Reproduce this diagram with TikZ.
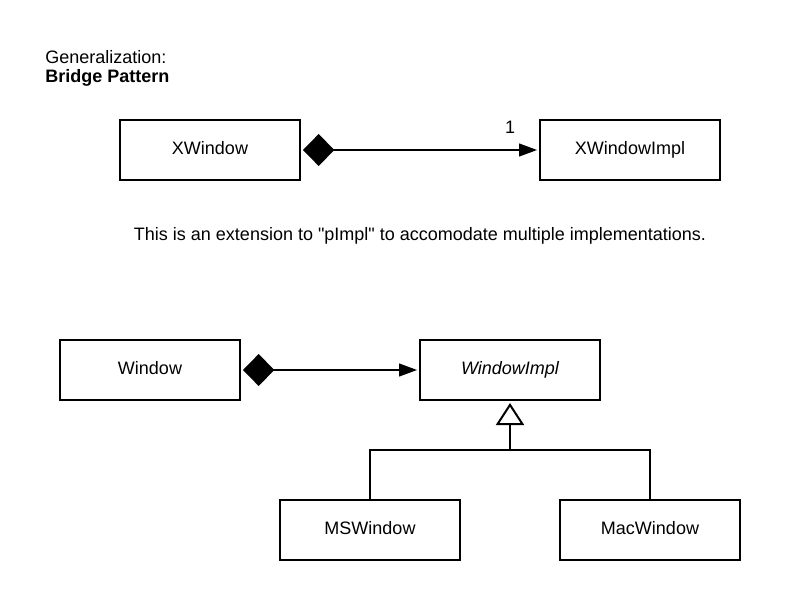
\documentclass[tikz,border=0pt]{standalone}
\usepackage{fontspec}
\setmainfont{Liberation Sans}
\usetikzlibrary{arrows.meta}
\begin{document}
\begin{tikzpicture}[x=0.75pt,y=-0.75pt,
  cls/.style={draw,line width=1.5pt,minimum width=135pt,minimum height=45pt,inner sep=0pt,text height=9.6pt,text depth=2.8pt,font=\fontsize{13.5}{16}\selectfont},
  txt/.style={inner sep=0pt,font=\fontsize{13.5}{16}\selectfont},
  comp/.style={line width=1.5pt,{Diamond[length=23.5pt,width=24pt,line width=0pt]}-{Triangle[length=13.5pt,width=10pt,line width=0pt]},shorten <=1.5pt,shorten >=1.5pt},
  gen/.style={line width=1.5pt,-{Triangle[open,length=16.5pt,width=21pt,fill=white]},shorten >=1.5pt}]
\useasboundingbox (0,0) rectangle (800,600);
\node[txt,anchor=west] (t1) at (45,57) {Generalization:};
\node[txt,anchor=west,font=\fontsize{13.5}{16}\selectfont\bfseries] (t2) at (45,78) {Bridge Pattern};
\node[cls] (xw) at (210,150) {XWindow};
\node[cls] (xwi) at (630,150) {XWindowImpl};
\draw[comp] (xw.east) -- (xwi.west);
\node[txt] (one) at (510,127) {1};
\node[txt] (note) at (420,236) {This is an extension to \textquotedbl pImpl\textquotedbl{} to accomodate multiple implementations.};
\node[cls] (w) at (150,370) {Window};
\node[cls] (wi) at (510,370) {\itshape WindowImpl};
\draw[comp] (w.east) -- (wi.west);
\node[cls] (ms) at (370,530) {MSWindow};
\node[cls] (mac) at (650,530) {MacWindow};
\coordinate (j) at (510,450);
\draw[line width=1.5pt] (ms.north) |- (j) -| (mac.north);
\draw[gen] (j) -- (wi.south);
\end{tikzpicture}
\end{document}
